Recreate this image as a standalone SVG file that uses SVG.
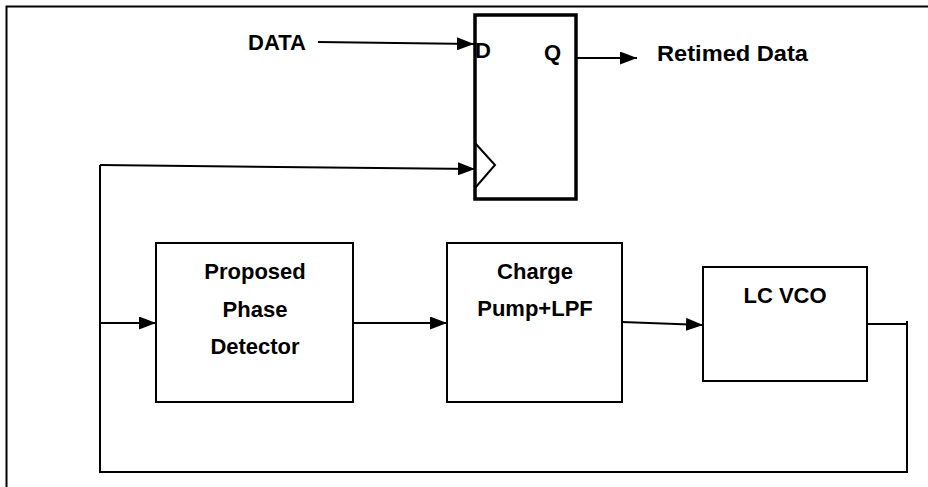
<svg xmlns="http://www.w3.org/2000/svg" width="928" height="487" viewBox="0 0 928 487">
<style>
.box{fill:#fff;stroke:#000;stroke-width:2}
.ff{fill:#fff;stroke:#000;stroke-width:3.5}
.wire{fill:none;stroke:#000;stroke-width:2}
.lbl{font-family:"Liberation Sans",Arial,sans-serif;font-weight:bold;font-size:22px;fill:#000}
.mid{text-anchor:middle}
</style>
<defs>
<marker id="arr" markerWidth="17" markerHeight="13" refX="17" refY="6.5" orient="auto" markerUnits="userSpaceOnUse">
<path d="M0,0 L17,6.5 L0,13 Z" fill="#000"/>
</marker>
</defs>
<rect x="0" y="0" width="928" height="487" fill="#fff"/>
<rect x="6.5" y="6.5" width="930" height="490" fill="none" stroke="#000" stroke-width="2"/>

<g id="flipflop">
<rect class="ff" x="475" y="15" width="101" height="184"/>
<polyline class="wire" points="475,143 495,165 475,188" stroke-width="3"/>
<text class="lbl" x="475" y="58" font-size="20">D</text>
<text class="lbl" x="544" y="60" font-size="20">Q</text>
</g>

<g id="data-label"><text class="lbl" x="248" y="50">DATA</text></g>
<g id="retimed-label"><text class="lbl" x="657" y="61" font-size="23" textLength="151" lengthAdjust="spacingAndGlyphs">Retimed Data</text></g>

<g id="phase-detector">
<rect class="box" x="156" y="243" width="197" height="159"/>
<text class="lbl mid" x="255" y="279">Proposed</text>
<text class="lbl mid" x="255" y="317">Phase</text>
<text class="lbl mid" x="255" y="354">Detector</text>
</g>

<g id="charge-pump">
<rect class="box" x="447" y="243" width="175" height="159"/>
<text class="lbl mid" x="535" y="279">Charge</text>
<text class="lbl mid" x="535" y="316">Pump+LPF</text>
</g>

<g id="lc-vco">
<rect class="box" x="703" y="267" width="164" height="114"/>
<text class="lbl mid" x="785" y="303">LC VCO</text>
</g>

<g id="connectors">
<line class="wire" x1="318" y1="42" x2="474" y2="44" marker-end="url(#arr)"/>
<line class="wire" x1="577" y1="58" x2="637" y2="58" marker-end="url(#arr)"/>
<line class="wire" x1="100" y1="165" x2="475" y2="169" marker-end="url(#arr)"/>
<line class="wire" x1="100" y1="323" x2="156" y2="323" marker-end="url(#arr)"/>
<line class="wire" x1="353" y1="323" x2="447" y2="323" marker-end="url(#arr)"/>
<line class="wire" x1="622" y1="322" x2="703" y2="325" marker-end="url(#arr)"/>
<polyline class="wire" points="867,324 907,324 907,472 100,472 100,165"/>
<line class="wire" x1="907" y1="321" x2="907" y2="325"/>
</g>
</svg>
